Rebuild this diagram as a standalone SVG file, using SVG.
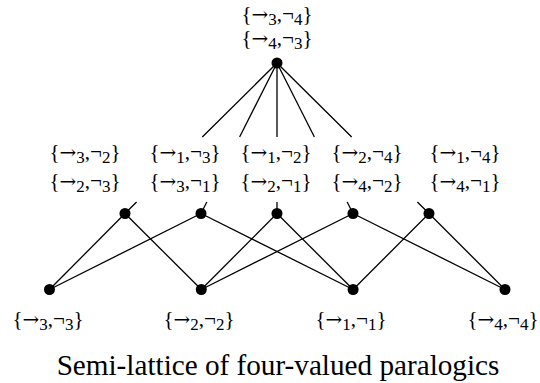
<svg xmlns="http://www.w3.org/2000/svg" width="540" height="383" viewBox="0 0 540 383">
<style>
.lbl{font-family:"Liberation Serif","Times New Roman",serif;font-size:21px;fill:#000;text-anchor:middle}
.sub{font-size:17px}
.ar{font-family:"DejaVu Serif",serif;font-size:20px}
.cap{font-family:"Liberation Serif","Times New Roman",serif;font-size:29.2px;fill:#000;text-anchor:middle}
.edge{stroke:#000;stroke-width:1.3;fill:none}
.dot{fill:#000}
</style>
<rect width="540" height="383" fill="#fff"/>
<g id="connectors">
<path class="edge" d="M277,63 L202.3,137 M136.6,202 L125,213.5"/>
<path class="edge" d="M277,63 L239.6,137 M206.8,202 L201,213.5"/>
<path class="edge" d="M277,63 L277,137 M277,202 L277,213.5"/>
<path class="edge" d="M277,63 L314.4,137 M347.2,202 L353,213.5"/>
<path class="edge" d="M277,63 L351.7,137 M417.4,202 L429,213.5"/>
<line class="edge" x1="125" y1="213.5" x2="49.5" y2="289.5"/>
<line class="edge" x1="125" y1="213.5" x2="201.3" y2="289.5"/>
<line class="edge" x1="201" y1="213.5" x2="49.5" y2="289.5"/>
<line class="edge" x1="201" y1="213.5" x2="353.1" y2="289.5"/>
<line class="edge" x1="277" y1="213.5" x2="201.3" y2="289.5"/>
<line class="edge" x1="277" y1="213.5" x2="353.1" y2="289.5"/>
<line class="edge" x1="353" y1="213.5" x2="201.3" y2="289.5"/>
<line class="edge" x1="353" y1="213.5" x2="505" y2="289.5"/>
<line class="edge" x1="429" y1="213.5" x2="353.1" y2="289.5"/>
<line class="edge" x1="429" y1="213.5" x2="505" y2="289.5"/>
</g>
<g id="top">
<circle class="dot" cx="277" cy="63" r="5.5"/>
<text class="lbl" x="277" y="21">{<tspan class="ar">→</tspan><tspan class="sub" dy="4">3</tspan><tspan dy="-4">,¬</tspan><tspan class="sub" dy="4">4</tspan><tspan dy="-4">}</tspan></text>
<text class="lbl" x="277" y="45">{<tspan class="ar">→</tspan><tspan class="sub" dy="4">4</tspan><tspan dy="-4">,¬</tspan><tspan class="sub" dy="4">3</tspan><tspan dy="-4">}</tspan></text>
</g>
<g id="m1">
<circle class="dot" cx="125" cy="213.5" r="5.5"/>
<text class="lbl" x="85" y="159">{<tspan class="ar">→</tspan><tspan class="sub" dy="4">3</tspan><tspan dy="-4">,¬</tspan><tspan class="sub" dy="4">2</tspan><tspan dy="-4">}</tspan></text>
<text class="lbl" x="85" y="188">{<tspan class="ar">→</tspan><tspan class="sub" dy="4">2</tspan><tspan dy="-4">,¬</tspan><tspan class="sub" dy="4">3</tspan><tspan dy="-4">}</tspan></text>
</g>
<g id="m2">
<circle class="dot" cx="201" cy="213.5" r="5.5"/>
<text class="lbl" x="185" y="159">{<tspan class="ar">→</tspan><tspan class="sub" dy="4">1</tspan><tspan dy="-4">,¬</tspan><tspan class="sub" dy="4">3</tspan><tspan dy="-4">}</tspan></text>
<text class="lbl" x="185" y="188">{<tspan class="ar">→</tspan><tspan class="sub" dy="4">3</tspan><tspan dy="-4">,¬</tspan><tspan class="sub" dy="4">1</tspan><tspan dy="-4">}</tspan></text>
</g>
<g id="m3">
<circle class="dot" cx="277" cy="213.5" r="5.5"/>
<text class="lbl" x="276" y="159">{<tspan class="ar">→</tspan><tspan class="sub" dy="4">1</tspan><tspan dy="-4">,¬</tspan><tspan class="sub" dy="4">2</tspan><tspan dy="-4">}</tspan></text>
<text class="lbl" x="276" y="188">{<tspan class="ar">→</tspan><tspan class="sub" dy="4">2</tspan><tspan dy="-4">,¬</tspan><tspan class="sub" dy="4">1</tspan><tspan dy="-4">}</tspan></text>
</g>
<g id="m4">
<circle class="dot" cx="353" cy="213.5" r="5.5"/>
<text class="lbl" x="367" y="159">{<tspan class="ar">→</tspan><tspan class="sub" dy="4">2</tspan><tspan dy="-4">,¬</tspan><tspan class="sub" dy="4">4</tspan><tspan dy="-4">}</tspan></text>
<text class="lbl" x="367" y="188">{<tspan class="ar">→</tspan><tspan class="sub" dy="4">4</tspan><tspan dy="-4">,¬</tspan><tspan class="sub" dy="4">2</tspan><tspan dy="-4">}</tspan></text>
</g>
<g id="m5">
<circle class="dot" cx="429" cy="213.5" r="5.5"/>
<text class="lbl" x="465" y="159">{<tspan class="ar">→</tspan><tspan class="sub" dy="4">1</tspan><tspan dy="-4">,¬</tspan><tspan class="sub" dy="4">4</tspan><tspan dy="-4">}</tspan></text>
<text class="lbl" x="465" y="188">{<tspan class="ar">→</tspan><tspan class="sub" dy="4">4</tspan><tspan dy="-4">,¬</tspan><tspan class="sub" dy="4">1</tspan><tspan dy="-4">}</tspan></text>
</g>
<g id="b1">
<circle class="dot" cx="49.5" cy="289.5" r="5.5"/>
<text class="lbl" x="48" y="326">{<tspan class="ar">→</tspan><tspan class="sub" dy="4">3</tspan><tspan dy="-4">,¬</tspan><tspan class="sub" dy="4">3</tspan><tspan dy="-4">}</tspan></text>
</g>
<g id="b2">
<circle class="dot" cx="201.3" cy="289.5" r="5.5"/>
<text class="lbl" x="199" y="326">{<tspan class="ar">→</tspan><tspan class="sub" dy="4">2</tspan><tspan dy="-4">,¬</tspan><tspan class="sub" dy="4">2</tspan><tspan dy="-4">}</tspan></text>
</g>
<g id="b3">
<circle class="dot" cx="353.1" cy="289.5" r="5.5"/>
<text class="lbl" x="351" y="326">{<tspan class="ar">→</tspan><tspan class="sub" dy="4">1</tspan><tspan dy="-4">,¬</tspan><tspan class="sub" dy="4">1</tspan><tspan dy="-4">}</tspan></text>
</g>
<g id="b4">
<circle class="dot" cx="505" cy="289.5" r="5.5"/>
<text class="lbl" x="503" y="326">{<tspan class="ar">→</tspan><tspan class="sub" dy="4">4</tspan><tspan dy="-4">,¬</tspan><tspan class="sub" dy="4">4</tspan><tspan dy="-4">}</tspan></text>
</g>
<text class="cap" x="278" y="375">Semi-lattice of four-valued paralogics</text>
</svg>
